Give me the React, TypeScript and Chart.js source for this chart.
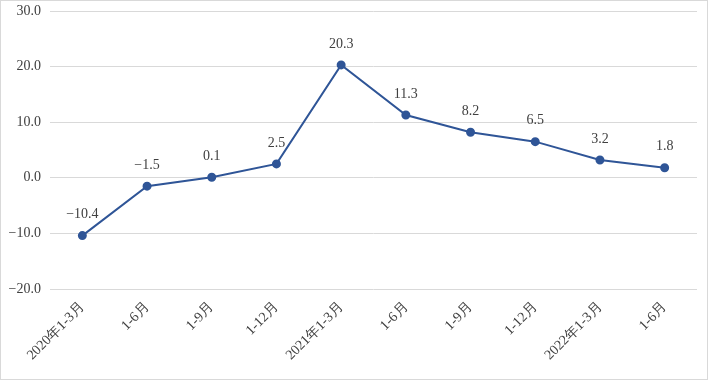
import React, { useEffect, useRef } from "react";
import { Chart, registerables } from "chart.js";

Chart.register(...registerables);

const categories: string[] = [
  "2020年1-3月",
  "1-6月",
  "1-9月",
  "1-12月",
  "2021年1-3月",
  "1-6月",
  "1-9月",
  "1-12月",
  "2022年1-3月",
  "1-6月",
];

const values: number[] = [-10.4, -1.5, 0.1, 2.5, 20.3, 11.3, 8.2, 6.5, 3.2, 1.8];

const yMin = -20;
const yMax = 30;
const yStep = 10;

const FONT = "'Liberation Serif', 'DejaVu Serif', serif";
const TEXT = "#404040";

const fmt = (v: number) => (v < 0 ? "\u2212" + Math.abs(v).toFixed(1) : v.toFixed(1));

const dataLabels = {
  id: "dataLabels",
  afterDatasetsDraw(chart: any) {
    const ctx = chart.ctx;
    const meta = chart.getDatasetMeta(0);
    ctx.save();
    ctx.font = `14px ${FONT}`;
    ctx.fillStyle = TEXT;
    ctx.textAlign = "center";
    ctx.textBaseline = "middle";
    meta.data.forEach((pt: any, i: number) => {
      const v = values[i];
      const s = v < 0 ? "\u2212" + Math.abs(v).toString() : v.toString();
      ctx.fillText(s, pt.x, pt.y - 21);
    });
    ctx.restore();
  },
};

export default function App() {
  const ref = useRef<HTMLCanvasElement | null>(null);

  useEffect(() => {
    document.body.style.margin = "0";
    if (!ref.current) return;
    const chart = new Chart(ref.current, {
      type: "line",
      data: {
        labels: categories,
        datasets: [
          {
            data: values,
            borderColor: "#2F5597",
            backgroundColor: "#2F5597",
            borderWidth: 2,
            pointRadius: 3.5,
            pointHoverRadius: 3.5,
            pointBackgroundColor: "#2F5597",
            pointBorderColor: "#2F5597",
            tension: 0,
          },
        ],
      },
      options: {
        animation: false,
        responsive: false,
        maintainAspectRatio: false,
        layout: { padding: { top: 11, right: 11, left: 0, bottom: 0 } },
        plugins: {
          legend: { display: false },
          tooltip: { enabled: false },
        },
        scales: {
          x: {
            offset: true,
            grid: { display: false, drawTicks: false },
            border: { display: false },
            ticks: {
              color: TEXT,
              font: { family: FONT, size: 14 },
              minRotation: 45,
              maxRotation: 45,
              padding: 10,
              autoSkip: false,
            },
            afterFit(scale: any) {
              scale.height = 91;
              scale.paddingLeft = 0;
              scale.paddingRight = 0;
            },
          },
          y: {
            min: yMin,
            max: yMax,
            grid: { color: "#d9d9d9", drawTicks: false, lineWidth: 1 },
            border: { display: false },
            ticks: {
              stepSize: yStep,
              color: TEXT,
              font: { family: FONT, size: 14 },
              padding: 9,
              callback: (v: any) => fmt(Number(v)),
            },
            afterFit(scale: any) {
              scale.width = 50;
              scale.paddingTop = 0;
              scale.paddingBottom = 0;
            },
          },
        },
      },
      plugins: [dataLabels],
    });
    return () => chart.destroy();
  }, []);

  return (
    <div style={{ position: "relative", width: 708, height: 380 }}>
      <canvas ref={ref} width={708} height={380} style={{ display: "block", width: 708, height: 380 }} />
      <div
        style={{
          position: "absolute",
          left: 0,
          top: 0,
          width: 708,
          height: 380,
          boxSizing: "border-box",
          border: "1px solid #d9d9d9",
          pointerEvents: "none",
        }}
      />
    </div>
  );
}
